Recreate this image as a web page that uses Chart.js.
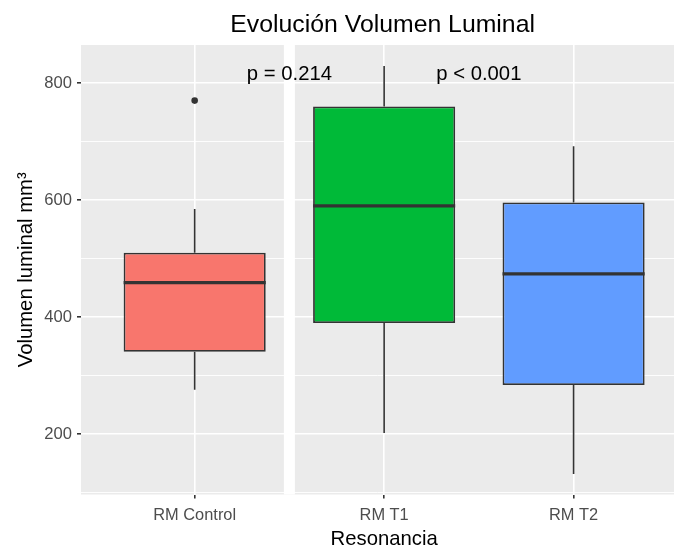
<!DOCTYPE html>
<html>
<head>
<meta charset="utf-8">
<title>Evolución Volumen Luminal</title>
<script src="https://cdn.jsdelivr.net/npm/chart.js@4/dist/chart.umd.min.js"></script>
<style>
  html, body { margin: 0; padding: 0; background: #ffffff; overflow: hidden; }
  #c { display: block; }
</style>
</head>
<body>
<canvas id="c" width="674" height="546"></canvas>
<script>
// Groups and their positions on the x axis
const groups = ['RM Control', 'RM T1', 'RM T2'];
const groupPos = [1, 2, 3];

// Box-plot summary per group (mm³)
const whiskerLow  = [276, 202, 132];
const q1          = [341, 390, 284];
const median      = [459, 590, 474];
const q3          = [510, 760, 596];
const whiskerHigh = [585, 829, 692];

// Outlying observations
const outlierGroup = [1];
const outlierValue = [770];

// Test results written above the boxes, placed between groups
const pLabels   = ['p = 0.214', 'p < 0.001'];
const pLabelX   = [1.5, 2.5];
const pLabelY   = [815, 815];

// Separator between control and follow-up scans
const separatorX = 1.5;

// Y axis ticks (every 100, labelled every 200)
const yTickStep = 100;
const yLabelEvery = 200;

const fills = ['#F8766D', '#00BA38', '#619CFF'];
const FONT = '"Liberation Sans", Arial, Helvetica, sans-serif';
Chart.defaults.font.family = FONT;

const isMajor = v => v % yLabelEvery === 0;

const boxplotExtras = {
  id: 'boxplotExtras',
  beforeDraw(chart) {
    const { ctx, chartArea: a } = chart;
    ctx.save();
    ctx.fillStyle = '#EBEBEB';
    ctx.fillRect(a.left, a.top, a.right - a.left, a.bottom - a.top);
    ctx.restore();
  },
  beforeDatasetsDraw(chart) {
    const { ctx, chartArea: a, scales: { x, y } } = chart;
    ctx.save();
    // white separator band
    ctx.strokeStyle = '#ffffff';
    ctx.lineWidth = 11;
    const sx = x.getPixelForValue(separatorX);
    ctx.beginPath();
    ctx.moveTo(sx, a.top);
    ctx.lineTo(sx, a.bottom);
    ctx.stroke();
    // whiskers
    ctx.strokeStyle = '#333333';
    ctx.lineWidth = 1.6;
    groupPos.forEach((g, i) => {
      const px = x.getPixelForValue(g);
      ctx.beginPath();
      ctx.moveTo(px, y.getPixelForValue(whiskerHigh[i]));
      ctx.lineTo(px, y.getPixelForValue(q3[i]));
      ctx.moveTo(px, y.getPixelForValue(q1[i]));
      ctx.lineTo(px, y.getPixelForValue(whiskerLow[i]));
      ctx.stroke();
    });
    ctx.restore();
  },
  afterDatasetsDraw(chart) {
    const { ctx, scales: { y } } = chart;
    const meta = chart.getDatasetMeta(0);
    ctx.save();
    ctx.strokeStyle = '#333333';
    ctx.lineWidth = 3.2;
    meta.data.forEach((bar, i) => {
      const py = y.getPixelForValue(median[i]);
      ctx.beginPath();
      ctx.moveTo(bar.x - bar.width / 2, py);
      ctx.lineTo(bar.x + bar.width / 2, py);
      ctx.stroke();
    });
    ctx.restore();
  },
  afterDraw(chart) {
    const { ctx, scales: { x, y } } = chart;
    const cx = x.getPixelForValue(2);
    ctx.save();
    ctx.fillStyle = '#000000';
    ctx.textAlign = 'center';
    ctx.textBaseline = 'alphabetic';
    ctx.font = `24.8px ${FONT}`;
    ctx.fillText('Evolución Volumen Luminal', cx - 1.5, 31.5);
    ctx.font = `20.3px ${FONT}`;
    ctx.fillText('Resonancia', cx, 545);
    ctx.textBaseline = 'middle';
    pLabels.forEach((t, i) => {
      ctx.fillText(t, x.getPixelForValue(pLabelX[i]), y.getPixelForValue(pLabelY[i]));
    });
    ctx.restore();
  }
};

new Chart(document.getElementById('c'), {
  type: 'bar',
  data: {
    datasets: [
      {
        type: 'bar',
        label: 'Volumen luminal',
        data: groupPos.map((g, i) => ({ x: g, y: [q1[i], q3[i]] })),
        backgroundColor: fills,
        borderColor: '#333333',
        borderWidth: 1.8,
        borderSkipped: false,
        categoryPercentage: 1,
        barPercentage: 0.75,
        order: 2
      },
      {
        type: 'scatter',
        label: 'Atípicos',
        data: outlierGroup.map((g, i) => ({ x: g, y: outlierValue[i] })),
        backgroundColor: '#333333',
        borderWidth: 0,
        pointRadius: 3.3,
        order: 1
      }
    ]
  },
  plugins: [boxplotExtras],
  options: {
    responsive: false,
    animation: false,
    devicePixelRatio: 1,
    layout: { autoPadding: false, padding: { top: 45, left: 0, right: 0, bottom: 0 } },
    plugins: { legend: { display: false }, tooltip: { enabled: false }, title: { display: false } },
    scales: {
      x: {
        type: 'linear',
        min: 0.4,
        max: 3.53,
        offset: false,
        afterBuildTicks: s => { s.ticks = groupPos.map(v => ({ value: v })); },
        afterFit: s => { s.height = 51.5; s.paddingLeft = 0; s.paddingRight = 0; },
        ticks: {
          autoSkip: false,
          maxRotation: 0,
          padding: 7,
          color: '#4D4D4D',
          font: { size: 16.4 },
          callback: v => { const k = groupPos.indexOf(v); return k >= 0 ? groups[k] : ''; }
        },
        grid: { offset: false, color: '#ffffff', lineWidth: 1.6, tickColor: '#333333', tickLength: 4 },
        border: { display: false }
      },
      y: {
        type: 'linear',
        min: 97,
        max: 865,
        afterFit: s => { s.width = 81; s.paddingTop = 0; s.paddingBottom = 0; },
        ticks: {
          stepSize: yTickStep,
          includeBounds: false,
          autoSkip: false,
          padding: 5,
          color: '#4D4D4D',
          font: { size: 16.6 },
          callback: v => (isMajor(v) ? String(v) : '')
        },
        grid: {
          color: '#ffffff',
          lineWidth: c => (c.tick && isMajor(c.tick.value) ? 1.6 : 0.9),
          tickColor: c => (c.tick && isMajor(c.tick.value) ? '#333333' : 'rgba(0,0,0,0)'),
          tickLength: 4
        },
        border: { display: false },
        title: {
          display: true,
          text: 'Volumen luminal mm³',
          color: '#000000',
          font: { size: 20.3 },
          padding: { top: 14, bottom: 0 }
        }
      }
    }
  }
});
</script>
</body>
</html>
